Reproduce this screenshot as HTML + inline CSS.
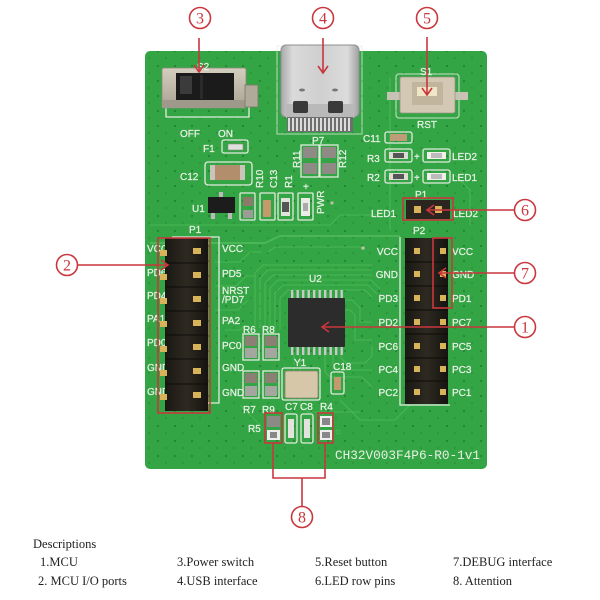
<!DOCTYPE html>
<html><head><meta charset="utf-8">
<style>
html,body{margin:0;padding:0;background:#fff;}
svg{display:block}
.s{font-family:"Liberation Sans",sans-serif;font-size:10px;fill:#e9f0e6;stroke:#e9f0e6;stroke-width:.25}
.m{font-family:"Liberation Mono",monospace;font-size:12.5px;fill:#e9f0e6}
.r{fill:none;stroke:#c9363d;stroke-width:1.6}
.ct{font-family:"Liberation Serif",serif;font-size:16px;fill:#c9363d;text-anchor:middle}
.d{font-family:"Liberation Serif",serif;font-size:12.5px;fill:#222}
.wo{fill:none;stroke:#e3ebdf;stroke-width:1.3}
.tr{fill:none;stroke:#4ab655;stroke-width:1.1}
</style></head><body>
<svg width="600" height="600" viewBox="0 0 600 600" xmlns="http://www.w3.org/2000/svg">
<defs>
<pattern id="dots" width="17" height="15" patternUnits="userSpaceOnUse"><circle cx="5" cy="6" r="1.1" fill="#1f7a2c"/><circle cx="13" cy="13" r="0.9" fill="#23852f"/></pattern>
<linearGradient id="usb" x1="0" x2="1" y1="0" y2="0"><stop offset="0" stop-color="#a9a9a9"/><stop offset=".15" stop-color="#dadada"/><stop offset=".5" stop-color="#cfcfcf"/><stop offset=".85" stop-color="#dcdcdc"/><stop offset="1" stop-color="#a0a0a0"/></linearGradient>
<linearGradient id="sw" x1="0" x2="0" y1="0" y2="1"><stop offset="0" stop-color="#d4cebf"/><stop offset="1" stop-color="#aaa393"/></linearGradient>
<linearGradient id="hdr" x1="0" x2="1" y1="0" y2="0"><stop offset="0" stop-color="#1a1813"/><stop offset=".5" stop-color="#2e2a22"/><stop offset="1" stop-color="#15130f"/></linearGradient>
</defs>

<!-- board -->
<rect x="145" y="51" width="342" height="418" rx="5" fill="#33a544"/>
<rect x="145" y="51" width="342" height="418" rx="5" fill="url(#dots)" opacity=".75"/>

<!-- traces -->
<g class="tr">
<path d="M150,243 H265 L280,236 H400" stroke-width="2"/>
<path d="M268,252 L275,247 H363"/>
<path d="M280,330 V298 L288,290 H365 L372,297"/>
<path d="M275,330 V293 L283,285 H368 L377,294"/>
<path d="M270,330 V288 L278,280 H371 L380,289"/>
<path d="M265,330 V283 L273,275 H372"/>
<path d="M260,328 V278 L268,270 H372"/>
<path d="M255,325 V273 L263,265 H372"/>
<path d="M325,355 V372 L330,377 H362 L372,387"/>
<path d="M333,355 V365 L338,370 H372"/>
<path d="M341,355 V358 L346,363 H365 L372,356 V346"/>
<path d="M300,355 V405 L308,412 H360"/>
<path d="M294,355 V400"/>
<path d="M345,300 H352 L360,308 V322 H372"/>
<path d="M345,310 H350 L355,315 V340 H372"/>
<path d="M215,262 H240 L250,252 H262"/>
<path d="M215,286 H236 L246,276 H255"/>
<path d="M215,310 H238 L248,300"/>
<path d="M225,330 H240 L245,325"/>
<path d="M390,78 V230"/>
<path d="M455,175 L470,190 V225"/>
<path d="M150,225 H330 L340,215 H380"/>
<path d="M240,405 L262,427"/>
<path d="M340,400 L360,420 H395 L410,405"/>
</g>

<!-- Switch S2 -->
<path d="M166,104 V117 H249 V104" class="wo"/>
<rect x="162" y="68" width="84" height="40" rx="2" fill="url(#sw)" stroke="#8d8779" stroke-width=".8"/>
<rect x="162" y="100" width="84" height="8" fill="#9f998b"/>
<rect x="245" y="85" width="13" height="22" fill="#b0aa9b" stroke="#7c7668" stroke-width=".8"/>
<rect x="176" y="73" width="58" height="27" fill="#1b1b1b"/>
<rect x="180" y="76" width="12" height="18" fill="#3b3b3b"/>
<rect x="200" y="75" width="3" height="24" fill="#2b2b2b"/>
<text class="s" x="197" y="70">S2</text>
<text class="s" x="180" y="137">OFF</text>
<text class="s" x="218" y="137">ON</text>

<!-- F1 -->
<text class="s" x="203" y="152">F1</text>
<rect x="222" y="140" width="26" height="13" rx="2" class="wo"/>
<rect x="228" y="144" width="15" height="6" fill="#e0e0dc" stroke="#888" stroke-width=".6"/>
<!-- C12 -->
<text class="s" x="180" y="180">C12</text>
<rect x="205" y="162" width="47" height="23" rx="3" class="wo"/>
<rect x="210" y="165" width="35" height="15" rx="2" fill="#b38e6c"/>
<rect x="210" y="165" width="5" height="15" fill="#c9c5ba"/>
<rect x="240" y="165" width="5" height="15" fill="#c9c5ba"/>
<!-- rotated labels -->
<text class="s" transform="translate(263,188) rotate(-90)">R10</text>
<text class="s" transform="translate(277,188) rotate(-90)">C13</text>
<text class="s" transform="translate(292,188) rotate(-90)">R1</text>
<text class="s" transform="translate(300,168) rotate(-90)">R11</text>
<text class="s" transform="translate(346,168) rotate(-90)">R12</text>
<text class="s" x="303" y="190">+</text>
<text class="s" transform="translate(324,214) rotate(-90)">PWR</text>
<circle cx="332" cy="203" r="1.6" fill="#b9c2a0"/>
<!-- U1 -->
<text class="s" x="192" y="212">U1</text>
<rect x="208" y="197" width="27" height="16" fill="#1c1c1c"/>
<rect x="211" y="213" width="4" height="6" fill="#bbb"/>
<rect x="228" y="213" width="4" height="6" fill="#bbb"/>
<rect x="219" y="192" width="4" height="5" fill="#bbb"/>
<!-- small components row -->
<rect x="240" y="193" width="15" height="27" rx="1" class="wo"/>
<rect x="243" y="197" width="10" height="9" fill="#8c7a6a"/>
<rect x="243" y="210" width="10" height="8" fill="#9c9c96"/>
<rect x="260" y="193" width="15" height="27" rx="1" class="wo"/>
<rect x="263" y="200" width="8" height="17" rx="1" fill="#c49a6c"/>
<rect x="278" y="193" width="15" height="27" rx="1" class="wo"/>
<rect x="281" y="198" width="9" height="18" fill="#e2e2dc"/>
<rect x="282" y="202" width="7" height="10" fill="#555"/>
<rect x="298" y="193" width="15" height="27" rx="1" class="wo"/>
<rect x="301" y="198" width="9" height="18" fill="#ecebe5"/>
<rect x="303" y="203" width="5" height="8" fill="#aaa"/>

<!-- USB-C -->
<rect x="277" y="46" width="85" height="88" class="wo" opacity=".6"/>
<rect x="281" y="45" width="78" height="72" rx="5" fill="url(#usb)" stroke="#8f8f8f" stroke-width="1"/>
<rect x="286" y="104" width="68" height="14" fill="#b9b9b9"/>
<rect x="293" y="101" width="15" height="12" rx="2" fill="#3a3a3a"/>
<rect x="328" y="101" width="15" height="12" rx="2" fill="#3a3a3a"/>
<ellipse cx="302" cy="90" rx="3" ry="1.5" fill="#777"/>
<ellipse cx="335" cy="90" rx="3" ry="1.5" fill="#777"/>
<rect x="287" y="117" width="66" height="15" fill="#6e6e6e"/>
<g fill="#dcdcdc">
<rect x="288" y="118" width="2" height="13"/><rect x="292" y="118" width="2" height="13"/><rect x="296" y="118" width="2" height="13"/><rect x="300" y="118" width="2" height="13"/><rect x="304" y="118" width="2" height="13"/><rect x="308" y="118" width="2" height="13"/><rect x="312" y="118" width="2" height="13"/><rect x="316" y="118" width="2" height="13"/><rect x="320" y="118" width="2" height="13"/><rect x="324" y="118" width="2" height="13"/><rect x="328" y="118" width="2" height="13"/><rect x="332" y="118" width="2" height="13"/><rect x="336" y="118" width="2" height="13"/><rect x="340" y="118" width="2" height="13"/><rect x="344" y="118" width="2" height="13"/><rect x="348" y="118" width="2" height="13"/>
</g>
<!-- P7 -->
<text class="s" x="312" y="144">P7</text>
<rect x="301" y="145" width="18" height="32" class="wo" stroke-width="1"/>
<rect x="320" y="145" width="18" height="32" class="wo" stroke-width="1"/>
<rect x="303" y="147" width="14" height="11" fill="#8f8a86"/>
<rect x="322" y="147" width="14" height="11" fill="#8f8a86"/>
<rect x="303" y="163" width="14" height="11" fill="#8f8a86"/>
<rect x="322" y="163" width="14" height="11" fill="#8f8a86"/>

<!-- S1 button -->
<rect x="396" y="74" width="63" height="44" rx="3" class="wo" opacity=".7"/>
<rect x="387" y="92" width="14" height="8" fill="#c8c2b4"/>
<rect x="454" y="92" width="14" height="8" fill="#c8c2b4"/>
<rect x="400" y="77" width="55" height="36" rx="2" fill="#d2c8b4" stroke="#9e9482" stroke-width=".8"/>
<rect x="412" y="82" width="31" height="23" fill="#c2b59d"/>
<rect x="417" y="87" width="20" height="9" fill="#efe6c8"/>
<text class="s" x="420" y="75">S1</text>
<text class="s" x="417" y="128">RST</text>

<!-- C11, R3, R2, LEDs -->
<text class="s" x="363" y="142">C11</text>
<rect x="385" y="132" width="27" height="11" rx="2" class="wo"/>
<rect x="390" y="134" width="17" height="7" fill="#bd9c78"/>
<text class="s" x="367" y="162">R3</text>
<rect x="385" y="149" width="27" height="13" rx="2" class="wo"/>
<rect x="389" y="152" width="19" height="7" fill="#dedbd3"/><rect x="393" y="153" width="11" height="5" fill="#555"/>
<text class="s" x="414" y="160">+</text>
<rect x="423" y="149" width="27" height="13" rx="2" class="wo"/>
<rect x="427" y="152" width="19" height="7" fill="#f0efea"/><rect x="431" y="153" width="11" height="5" fill="#bbb"/>
<text class="s" x="452" y="160">LED2</text>
<text class="s" x="367" y="181">R2</text>
<rect x="385" y="170" width="27" height="13" rx="2" class="wo"/>
<rect x="389" y="173" width="19" height="7" fill="#dedbd3"/><rect x="393" y="174" width="11" height="5" fill="#555"/>
<text class="s" x="414" y="181">+</text>
<rect x="423" y="170" width="27" height="13" rx="2" class="wo"/>
<rect x="427" y="173" width="19" height="7" fill="#f0efea"/><rect x="431" y="174" width="11" height="5" fill="#bbb"/>
<text class="s" x="452" y="181">LED1</text>

<!-- P1 LED header -->
<text class="s" x="415" y="198">P1</text>
<rect x="406" y="200" width="44" height="19" fill="#2a261f"/>
<rect x="414" y="206" width="7" height="7" fill="#d9b35a"/>
<rect x="435" y="206" width="7" height="7" fill="#d9b35a"/>
<text class="s" x="371" y="217">LED1</text>
<text class="s" x="453" y="217">LED2</text>

<!-- P2 header -->
<text class="s" x="413" y="234">P2</text>
<path d="M400,237 V405 H450" class="wo"/>
<rect x="405" y="238" width="43" height="166" fill="url(#hdr)"/>
<g stroke="#0d0c09" stroke-width="1"><line x1="405" y1="262" x2="448" y2="262"/><line x1="405" y1="286" x2="448" y2="286"/><line x1="405" y1="310" x2="448" y2="310"/><line x1="405" y1="334" x2="448" y2="334"/><line x1="405" y1="358" x2="448" y2="358"/><line x1="405" y1="381" x2="448" y2="381"/></g>
<g fill="#d9b35a">
<rect x="414" y="248" width="6" height="6"/><rect x="440" y="248" width="6" height="6"/>
<rect x="414" y="271" width="6" height="6"/><rect x="440" y="271" width="6" height="6"/>
<rect x="414" y="295" width="6" height="6"/><rect x="440" y="295" width="6" height="6"/>
<rect x="414" y="319" width="6" height="6"/><rect x="440" y="319" width="6" height="6"/>
<rect x="414" y="343" width="6" height="6"/><rect x="440" y="343" width="6" height="6"/>
<rect x="414" y="366" width="6" height="6"/><rect x="440" y="366" width="6" height="6"/>
<rect x="414" y="389" width="6" height="6"/><rect x="440" y="389" width="6" height="6"/>
</g>
<g class="s" text-anchor="end">
<text x="398" y="255">VCC</text><text x="398" y="278">GND</text><text x="398" y="302">PD3</text><text x="398" y="326">PD2</text><text x="398" y="350">PC6</text><text x="398" y="373">PC4</text><text x="398" y="396">PC2</text>
</g>
<g class="s">
<text x="452" y="255">VCC</text><text x="452" y="278">GND</text><text x="452" y="302">PD1</text><text x="452" y="326">PC7</text><text x="452" y="350">PC5</text><text x="452" y="373">PC3</text><text x="452" y="396">PC1</text>
</g>
<circle cx="363" cy="248" r="1.8" fill="#b9c2a0"/>

<!-- U2 -->
<text class="s" x="309" y="282">U2</text>
<g fill="#c9c9c9">
<rect x="291" y="290" width="2.4" height="9"/><rect x="296.5" y="290" width="2.4" height="9"/><rect x="302" y="290" width="2.4" height="9"/><rect x="307.5" y="290" width="2.4" height="9"/><rect x="313" y="290" width="2.4" height="9"/><rect x="318.5" y="290" width="2.4" height="9"/><rect x="324" y="290" width="2.4" height="9"/><rect x="329.5" y="290" width="2.4" height="9"/><rect x="335" y="290" width="2.4" height="9"/><rect x="340.5" y="290" width="2.4" height="9"/>
<rect x="291" y="346" width="2.4" height="9"/><rect x="296.5" y="346" width="2.4" height="9"/><rect x="302" y="346" width="2.4" height="9"/><rect x="307.5" y="346" width="2.4" height="9"/><rect x="313" y="346" width="2.4" height="9"/><rect x="318.5" y="346" width="2.4" height="9"/><rect x="324" y="346" width="2.4" height="9"/><rect x="329.5" y="346" width="2.4" height="9"/><rect x="335" y="346" width="2.4" height="9"/><rect x="340.5" y="346" width="2.4" height="9"/>
</g>
<rect x="288" y="298" width="57" height="49" rx="1" fill="#2c2c2c"/>

<!-- P1 header left -->
<g class="s">
<text x="147" y="252">VCC</text><text x="147" y="276">PD6</text><text x="147" y="299">PD4</text><text x="147" y="322">PA1</text><text x="147" y="346">PD0</text><text x="147" y="371">GND</text><text x="147" y="395">GND</text>
</g>
<text class="s" x="189" y="233">P1</text>
<path d="M172,237 H219 V403 H208" class="wo"/>
<rect x="165" y="238" width="43" height="173" fill="url(#hdr)"/>
<g stroke="#0d0c09" stroke-width="1"><line x1="165" y1="263" x2="208" y2="263"/><line x1="165" y1="287" x2="208" y2="287"/><line x1="165" y1="311" x2="208" y2="311"/><line x1="165" y1="335" x2="208" y2="335"/><line x1="165" y1="359" x2="208" y2="359"/><line x1="165" y1="384" x2="208" y2="384"/></g>
<g fill="#d9b35a">
<rect x="160" y="250" width="7" height="6"/><rect x="193" y="248" width="8" height="6"/>
<rect x="160" y="274" width="7" height="6"/><rect x="193" y="272" width="8" height="6"/>
<rect x="160" y="298" width="7" height="6"/><rect x="193" y="296" width="8" height="6"/>
<rect x="160" y="321" width="7" height="6"/><rect x="193" y="320" width="8" height="6"/>
<rect x="160" y="346" width="7" height="6"/><rect x="193" y="344" width="8" height="6"/>
<rect x="160" y="370" width="7" height="6"/><rect x="193" y="368" width="8" height="6"/>
<rect x="160" y="394" width="7" height="6"/><rect x="193" y="392" width="8" height="6"/>
</g>
<g class="s">
<text x="222" y="252">VCC</text><text x="222" y="277">PD5</text><text x="222" y="294">NRST</text><text x="222" y="303">/PD7</text><text x="222" y="324">PA2</text><text x="222" y="349">PC0</text><text x="222" y="371">GND</text><text x="222" y="396">GND</text>
</g>

<!-- R6 R8 R7 R9 -->
<text class="s" x="243" y="333">R6</text><text class="s" x="262" y="333">R8</text>
<rect x="243" y="334" width="16" height="26" class="wo" stroke-width="1"/>
<rect x="263" y="334" width="16" height="26" class="wo" stroke-width="1"/>
<rect x="245" y="336" width="12" height="10" fill="#8c7f74"/><rect x="265" y="336" width="12" height="10" fill="#8c7f74"/>
<rect x="245" y="348" width="12" height="10" fill="#a6a6a0"/><rect x="265" y="348" width="12" height="10" fill="#a6a6a0"/>
<rect x="243" y="371" width="16" height="27" class="wo" stroke-width="1"/>
<rect x="263" y="371" width="16" height="27" class="wo" stroke-width="1"/>
<rect x="245" y="373" width="12" height="10" fill="#8c7f74"/><rect x="265" y="373" width="12" height="10" fill="#8c7f74"/>
<rect x="245" y="386" width="12" height="10" fill="#a6a6a0"/><rect x="265" y="386" width="12" height="10" fill="#a6a6a0"/>
<text class="s" x="243" y="413">R7</text><text class="s" x="262" y="413">R9</text>

<!-- Y1, C18 -->
<text class="s" x="294" y="366">Y1</text>
<rect x="282" y="368" width="38" height="32" rx="2" class="wo"/>
<rect x="285" y="371" width="33" height="27" rx="2" fill="#d6c7a8" stroke="#8f8573" stroke-width=".8"/>
<text class="s" x="333" y="370">C18</text>
<rect x="331" y="372" width="13" height="22" rx="2" class="wo"/>
<rect x="334" y="377" width="7" height="13" fill="#c49a6c"/>

<!-- R5 C7 C8 R4 -->
<text class="s" x="248" y="432">R5</text>
<text class="s" x="285" y="410">C7</text><text class="s" x="300" y="410">C8</text><text class="s" x="320" y="410">R4</text>
<rect x="267" y="416" width="13" height="11" fill="#8c8a86"/><rect x="267" y="430" width="13" height="10" fill="#eee"/><rect x="270" y="432" width="7" height="6" fill="#888"/>
<rect x="285" y="414" width="12" height="29" rx="2" class="wo"/><rect x="288" y="419" width="6" height="19" fill="#e4e2dc"/>
<rect x="301" y="414" width="12" height="29" rx="2" class="wo"/><rect x="304" y="419" width="6" height="19" fill="#e4e2dc"/>
<rect x="320" y="416" width="12" height="11" fill="#eee"/><rect x="322" y="418" width="8" height="7" fill="#888"/><rect x="320" y="430" width="12" height="10" fill="#eee"/><rect x="322" y="432" width="8" height="6" fill="#888"/>
<circle cx="338" cy="432" r="2" fill="none" stroke="#4ab655"/>

<!-- board label -->
<text class="m" x="335" y="459" textLength="145" lengthAdjust="spacingAndGlyphs">CH32V003F4P6-R0-1v1</text>

<!-- red annotations -->
<rect class="r" x="158" y="238" width="52" height="175"/>
<rect class="r" x="403" y="198" width="50" height="22"/>
<rect class="r" x="433" y="238" width="19" height="70"/>
<rect class="r" x="265" y="413" width="17" height="30"/>
<rect class="r" x="318" y="413" width="15" height="30"/>
<path class="r" d="M273,443 V478 H325 V443 M302,478 V507"/>

<!-- arrows -->
<path class="r" d="M199,38 V72 M194,65 L199,72 L204,65"/>
<path class="r" d="M323,38 V73 M318,66 L323,73 L328,66"/>
<path class="r" d="M427,37 V95 M422,88 L427,95 L432,88"/>
<path class="r" d="M78,265 H168 M161,260 L168,265 L161,270"/>
<path class="r" d="M514,210 H427 M434,205 L427,210 L434,215"/>
<path class="r" d="M514,273 H439 M446,268 L439,273 L446,278"/>
<path class="r" d="M514,327 H322 M329,322 L322,327 L329,332"/>

<!-- number circles -->
<g>
<circle class="r" cx="200" cy="18" r="10.5" stroke-width="1.4"/><text class="ct" x="200" y="23.5">3</text>
<circle class="r" cx="323" cy="18" r="10.5" stroke-width="1.4"/><text class="ct" x="323" y="23.5">4</text>
<circle class="r" cx="427" cy="18" r="10.5" stroke-width="1.4"/><text class="ct" x="427" y="23.5">5</text>
<circle class="r" cx="67" cy="265" r="10.5" stroke-width="1.4"/><text class="ct" x="67" y="270.5">2</text>
<circle class="r" cx="525" cy="210" r="10.5" stroke-width="1.4"/><text class="ct" x="525" y="215.5">6</text>
<circle class="r" cx="525" cy="273" r="10.5" stroke-width="1.4"/><text class="ct" x="525" y="278.5">7</text>
<circle class="r" cx="525" cy="327" r="10.5" stroke-width="1.4"/><text class="ct" x="525" y="332.5">1</text>
<circle class="r" cx="302" cy="517" r="10.5" stroke-width="1.4"/><text class="ct" x="302" y="522.5">8</text>
</g>

<!-- descriptions -->
<text class="d" x="33" y="548">Descriptions</text>
<text class="d" x="40" y="566">1.MCU</text>
<text class="d" x="177" y="566">3.Power switch</text>
<text class="d" x="315" y="566">5.Reset button</text>
<text class="d" x="453" y="566">7.DEBUG interface</text>
<text class="d" x="38" y="585">2. MCU I/O ports</text>
<text class="d" x="177" y="585">4.USB interface</text>
<text class="d" x="315" y="585">6.LED row pins</text>
<text class="d" x="453" y="585">8. Attention</text>
</svg>
</body></html>
